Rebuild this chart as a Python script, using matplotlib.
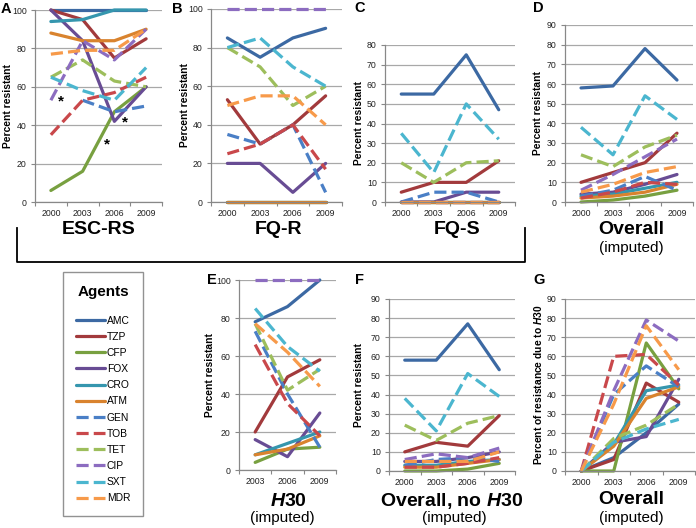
import matplotlib
matplotlib.use('Agg')
import matplotlib.pyplot as plt
import numpy as np
from matplotlib.lines import Line2D

plt.rcParams['font.family'] = ['Liberation Sans', 'DejaVu Sans']
plt.rcParams['mathtext.fontset'] = 'custom'
plt.rcParams['mathtext.rm'] = 'Liberation Sans'
plt.rcParams['mathtext.it'] = 'Liberation Sans:italic'
plt.rcParams['mathtext.bf'] = 'Liberation Sans:bold'
plt.rcParams['mathtext.bfit'] = 'Liberation Sans:italic:bold'

nan = np.nan
agents = ['AMC', 'TZP', 'CFP', 'FOX', 'CRO', 'ATM', 'GEN', 'TOB', 'TET', 'CIP', 'SXT', 'MDR']
colors = ['#3C69A3', '#A23A3C', '#78A040', '#684C94', '#3596AE', '#D9832E',
          '#4A7FC6', '#C9484B', '#9DBE5C', '#8C6CC0', '#4BB6CF', '#F79A4A']
dashed = [False] * 6 + [True] * 6

years4 = ['2000', '2003', '2006', '2009']
years3 = ['2003', '2006', '2009']

esc_rs = {'AMC': [100, 100, 100, 100], 'TZP': [100, 95, 75, 85], 'CFP': [6, 16, 47, 60],
          'FOX': [100, 84, 42, 60], 'CRO': [94, 95, 100, 100], 'ATM': [88, 84, 84, 90],
          'GEN': [nan, 53, 47, 50], 'TOB': [35, 53, 57, 65], 'TET': [65, 74, 63, 60],
          'CIP': [53, 84, 74, 90], 'SXT': [65, 58, 53, 70], 'MDR': [77, 79, 79, 90]}
fq_r = {'AMC': [85, 75, 85, 90], 'TZP': [53, 30, 40, 55], 'CFP': [0, 0, 0, 0],
        'FOX': [20, 20, 5, 20], 'CRO': [0, 0, 0, 0], 'ATM': [0, 0, 0, 0],
        'GEN': [35, 30, 40, 5], 'TOB': [25, 30, 40, 17], 'TET': [80, 70, 50, 60],
        'CIP': [100, 100, 100, 100], 'SXT': [80, 85, 70, 60], 'MDR': [50, 55, 55, 40]}
fq_s = {'AMC': [55, 55, 75, 47], 'TZP': [5, 10, 10, 21], 'CFP': [0, 0, 0, 0],
        'FOX': [0, 0, 5, 5], 'CRO': [0, 0, 0, 0], 'ATM': [0, 0, 0, 0],
        'GEN': [0, 5, 5, 0], 'TOB': [0, 0, 0, 0], 'TET': [20, 10, 20, 21],
        'CIP': [0, 0, 0, 0], 'SXT': [35, 15, 50, 32], 'MDR': [0, 0, 0, 0]}
overall = {'AMC': [58, 59, 78, 62], 'TZP': [10, 15, 20, 35], 'CFP': [0, 1, 3, 6],
           'FOX': [4, 5, 9, 14], 'CRO': [3, 4, 7, 10], 'ATM': [2, 3, 5, 9],
           'GEN': [3, 6, 13, 6], 'TOB': [2, 5, 10, 9], 'TET': [24, 18, 28, 34],
           'CIP': [6, 14, 23, 32], 'SXT': [38, 24, 54, 42], 'MDR': [5, 9, 15, 18]}
h30 = {'AMC': [78, 86, 100], 'TZP': [20, 49, 58], 'CFP': [4, 11, 12],
       'FOX': [16, 7, 30], 'CRO': [8, 14, 20], 'ATM': [8, 11, 18],
       'GEN': [73, 40, 12], 'TOB': [66, 35, 18], 'TET': [77, 42, 53],
       'CIP': [100, 100, 100], 'SXT': [85, 65, 52], 'MDR': [77, 62, 44]}
no_h30 = {'AMC': [58, 58, 77, 53], 'TZP': [10, 15, 13, 29], 'CFP': [0, 0, 1, 4],
          'FOX': [5, 5, 7, 10], 'CRO': [3, 3, 5, 6], 'ATM': [2, 2, 4, 6],
          'GEN': [3, 6, 7, 5], 'TOB': [2, 2, 4, 7], 'TET': [24, 16, 25, 29],
          'CIP': [6, 9, 7, 12], 'SXT': [38, 21, 51, 39], 'MDR': [5, 5, 5, 10]}
due_h30 = {'AMC': [0, 7, 20, 35], 'TZP': [0, 6, 46, 36], 'CFP': [0, 0, 67, 43],
           'FOX': [0, 15, 18, 48], 'CRO': [0, 14, 42, 45], 'ATM': [0, 13, 38, 44],
           'GEN': [0, 40, 55, 44], 'TOB': [0, 60, 61, 45], 'TET': [0, 17, 24, 35],
           'CIP': [0, 42, 79, 68], 'SXT': [0, 15, 22, 27], 'MDR': [0, 35, 76, 53]}

W, H = 696, 528
fig = plt.figure(figsize=(W / 100, H / 100), dpi=100)


def rect(l, r, t, b):
    return [l / W, 1 - b / H, (r - l) / W, (b - t) / H]


def ftext(x, y, s, **kw):
    fig.text(x / W, 1 - y / H, s, **kw)


DASH = (0, (3.8, 1.6))
LW = 2.3


def panel(l, r, t, b, data, cats, ymax, ystep, ylabel, lab_off):
    ax = fig.add_axes(rect(l, r, t, b))
    x = np.arange(len(cats))
    for a, c, d in zip(agents, colors, dashed):
        y = np.array(data[a], dtype=float)
        ax.plot(x, y, color=c, lw=LW, linestyle=DASH if d else '-',
                solid_capstyle='round', solid_joinstyle='round',
                dash_capstyle='butt', clip_on=False)
    ax.set_xlim(-0.5, len(cats) - 0.5)
    ax.set_ylim(0, ymax)
    ax.set_yticks(np.arange(0, ymax + 0.1, ystep))
    ax.set_xticks(x)
    ax.set_xticklabels(cats)
    ax.set_xticks(np.arange(len(cats) + 1) - 0.5, minor=True)
    ax.tick_params(axis='x', which='major', length=0, labelsize=6.3, pad=5, labelcolor='#222222')
    ax.tick_params(axis='x', which='minor', length=3, color='#888888', width=0.8)
    ax.tick_params(axis='y', length=3, labelsize=6.3, color='#888888', width=0.8, pad=3,
                   labelcolor='#222222')
    ax.grid(axis='y', color='#A8A8A8', lw=0.9)
    ax.set_axisbelow(True)
    for s in ['top', 'right']:
        ax.spines[s].set_visible(False)
    for s in ['left', 'bottom']:
        ax.spines[s].set_color('#888888')
        ax.spines[s].set_linewidth(0.9)
    ax.set_ylabel(ylabel, fontsize=7.4, fontweight='bold', va='center')
    ax.yaxis.set_label_coords(-lab_off / (r - l), 0.5)
    return ax


panel(35, 162, 10, 202, esc_rs, years4, 100, 20, 'Percent resistant', 27)
panel(211, 342, 9, 202, fq_r, years4, 100, 20, 'Percent resistant', 26)
panel(385, 515, 45, 202, fq_s, years4, 80, 10, 'Percent resistant', 26)
panel(565, 693, 25, 202, overall, years4, 90, 10, 'Percent resistant', 27)
panel(239, 336, 280, 470, h30, years3, 100, 20, 'Percent resistant', 29)
panel(389, 515, 299, 471, no_h30, years4, 90, 10, 'Percent resistant', 30)
panel(565, 695, 299, 471, due_h30, years4, 90, 10,
      r'Percent of resistance due to $\mathbfit{H}$30', 27)

# panel letters
for lx, ly, s in [(1, 9, 'A'), (172, 9, 'B'), (354, 8, 'C'), (533, 8, 'D'),
                  (207, 280, 'E'), (355, 280, 'F'), (533, 280, 'G')]:
    ftext(lx, ly, s, fontsize=10.5, fontweight='bold', ha='left', va='center')

# stars
for sx, sy in [(61, 101), (125, 122), (107, 144)]:
    ftext(sx, sy, '*', fontsize=11, fontweight='bold', ha='center', va='center')

# subtitles
ftext(99, 229, 'ESC-RS', fontsize=14, fontweight='bold', ha='center', va='center')
ftext(279, 229, 'FQ-R', fontsize=14, fontweight='bold', ha='center', va='center')
ftext(457, 229, 'FQ-S', fontsize=14, fontweight='bold', ha='center', va='center')
ftext(631, 229, 'Overall', fontsize=14, fontweight='bold', ha='center', va='center')
ftext(631, 248, '(imputed)', fontsize=11, ha='center', va='center')
ftext(288, 502, r'$\mathbfit{H}$30', fontsize=14, fontweight='bold', ha='center', va='center')
ftext(282, 518, '(imputed)', fontsize=11, ha='center', va='center')
ftext(452, 501, r'Overall, no $\mathbfit{H}$30', fontsize=14, fontweight='bold',
      ha='center', va='center')
ftext(454, 518, '(imputed)', fontsize=11, ha='center', va='center')
ftext(631, 500, 'Overall', fontsize=14, fontweight='bold', ha='center', va='center')
ftext(631, 518, '(imputed)', fontsize=11, ha='center', va='center')

# bracket
fig.add_artist(Line2D([17 / W, 17 / W, 525 / W, 525 / W],
                      [1 - 228 / H, 1 - 262 / H, 1 - 262 / H, 1 - 228 / H],
                      color='black', lw=1.3))

# legend
handles = [Line2D([0], [0], color=c, lw=LW, linestyle=DASH if d else '-',
                  solid_capstyle='round', dash_capstyle='butt')
           for c, d in zip(colors, dashed)]
leg = fig.legend(handles, agents, loc='upper left',
                 bbox_to_anchor=(63 / W, 1 - 272 / H), fontsize=7.4,
                 title='Agents', title_fontproperties={'weight': 'bold', 'size': 11},
                 frameon=True, fancybox=False, edgecolor='#777777',
                 handlelength=2.8, handletextpad=0.2, labelspacing=0.6,
                 borderpad=1.25, borderaxespad=0)
leg.get_frame().set_linewidth(1.0)
leg._legend_box.sep = 12

fig.savefig('out.png', dpi=100)
